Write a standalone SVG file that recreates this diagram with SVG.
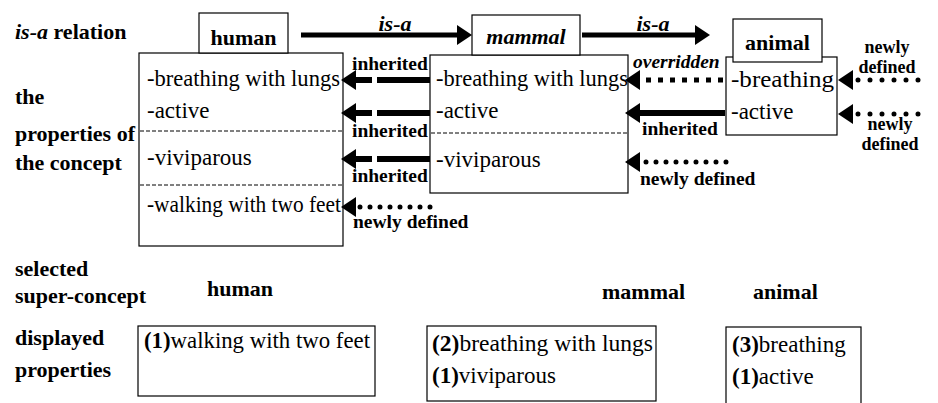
<svg xmlns="http://www.w3.org/2000/svg" width="938" height="403" viewBox="0 0 938 403">
<style>
text { font-family: "Liberation Serif", "Times New Roman", serif; fill: #000; }
.t { font-size: 23px; }
.b { font-size: 22px; font-weight: bold; }
.lb { font-size: 19.5px; font-weight: bold; }
.sm { font-size: 18px; font-weight: bold; }
.i { font-style: italic; }
.bo { font-weight: bold; }
.box { fill: #fff; stroke: #000; stroke-width: 1.2; }
.dash { stroke: #000; stroke-width: 1; stroke-dasharray: 4 2; fill: none; }
.thick { stroke: #000; stroke-width: 6; fill: none; }
.isa { stroke: #000; stroke-width: 5; fill: none; }
.dots { stroke: #000; stroke-width: 5; stroke-linecap: round; fill: none; }
.sq { stroke: #000; stroke-width: 5; stroke-dasharray: 5 7; fill: none; }
</style>
<defs>
<marker id="ah" markerUnits="userSpaceOnUse" viewBox="0 0 15 20" markerWidth="15" markerHeight="20" refX="0" refY="10" orient="auto">
<path d="M0,0 L15,10 L0,20 z" fill="#000"/>
</marker>
</defs>
<rect width="938" height="403" fill="#fff"/>

<g id="row-labels">
<text class="b" x="15" y="39"><tspan class="i">is-a</tspan> relation</text>
<text class="b" x="15" y="104">the</text>
<text class="b" x="15" y="141">properties of</text>
<text class="b" x="15" y="170">the concept</text>
<text class="b" x="15" y="276">selected</text>
<text class="b" x="15" y="303">super-concept</text>
<text class="b" x="15" y="345">displayed</text>
<text class="b" x="15" y="377">properties</text>
</g>

<g id="human">
<rect class="box" x="139" y="53" width="204" height="193"/>
<line class="dash" x1="140" y1="131" x2="342" y2="131"/>
<line class="dash" x1="140" y1="185" x2="342" y2="185"/>
<text class="t" x="147" y="86" textLength="193" lengthAdjust="spacingAndGlyphs">-breathing with lungs</text>
<text class="t" x="147" y="118">-active</text>
<text class="t" x="147" y="165">-viviparous</text>
<text class="t" x="147" y="212" textLength="194" lengthAdjust="spacingAndGlyphs">-walking with two feet</text>
<rect class="box" x="199" y="13" width="89" height="40"/>
<text class="b" x="243.5" y="45" text-anchor="middle">human</text>
</g>

<g id="mammal">
<rect class="box" x="430" y="55" width="198" height="138"/>
<line class="dash" x1="431" y1="133" x2="627" y2="133"/>
<text class="t" x="436" y="86" textLength="192" lengthAdjust="spacingAndGlyphs">-breathing with lungs</text>
<text class="t" x="436" y="118">-active</text>
<text class="t" x="436" y="167">-viviparous</text>
<rect class="box" x="472" y="15" width="108" height="40"/>
<text class="b i" x="526" y="44" text-anchor="middle">mammal</text>
</g>

<g id="animal">
<rect class="box" x="726" y="57" width="111" height="78"/>
<text class="t" x="731" y="87" textLength="103" lengthAdjust="spacingAndGlyphs">-breathing</text>
<text class="t" x="731" y="119">-active</text>
<rect class="box" x="733" y="19" width="89" height="43"/>
<text class="b" x="777.5" y="50" text-anchor="middle">animal</text>
</g>

<g id="selected-human">
<text class="b" x="207" y="296">human</text>
<rect class="box" x="138" y="326" width="237" height="70"/>
<text class="t" x="144" y="348" textLength="226" lengthAdjust="spacingAndGlyphs"><tspan class="bo">(1)</tspan>walking with two feet</text>
</g>

<g id="selected-mammal">
<text class="b" x="602" y="299">mammal</text>
<rect class="box" x="427" y="326" width="229" height="75"/>
<text class="t" x="432" y="351" textLength="221" lengthAdjust="spacingAndGlyphs"><tspan class="bo">(2)</tspan>breathing with lungs</text>
<text class="t" x="432" y="383"><tspan class="bo">(1)</tspan>viviparous</text>
</g>

<g id="selected-animal">
<text class="b" x="753" y="299">animal</text>
<rect class="box" x="726" y="327" width="135" height="80"/>
<text class="t" x="732" y="352"><tspan class="bo">(3)</tspan>breathing</text>
<text class="t" x="732" y="384"><tspan class="bo">(1)</tspan>active</text>
</g>

<g id="connectors">
<path class="isa" d="M301,35 H457" marker-end="url(#ah)"/>
<text class="b i" x="395" y="31" text-anchor="middle">is-a</text>
<path class="isa" d="M582,35 H695" marker-end="url(#ah)"/>
<text class="b i" x="653" y="31" text-anchor="middle">is-a</text>

<path class="thick" d="M430,80 H377 M372,80 H356" marker-end="url(#ah)"/>
<text class="lb" x="352" y="70">inherited</text>
<path class="thick" d="M430,113 H377 M372,113 H356" marker-end="url(#ah)"/>
<text class="lb" x="352" y="137">inherited</text>
<path class="thick" d="M430,159 H377 M372,159 H356" marker-end="url(#ah)"/>
<text class="lb" x="352" y="182">inherited</text>
<path class="dots" d="M430,207 H356" stroke-dasharray="0 10" marker-end="url(#ah)"/>
<text class="lb" x="353" y="228">newly defined</text>

<path class="sq" d="M723,80 H640" marker-end="url(#ah)"/>
<text class="lb i" x="633" y="68">overridden</text>
<path class="thick" d="M725,113 H640" marker-end="url(#ah)"/>
<text class="lb" x="642" y="135">inherited</text>
<path class="dots" d="M726,162 H640" stroke-dasharray="0 10" marker-end="url(#ah)"/>
<text class="lb" x="640" y="185">newly defined</text>

<path class="dots" d="M918,80 H853" stroke-dasharray="0 12" marker-end="url(#ah)"/>
<text class="sm" text-anchor="middle"><tspan x="887" y="53">newly</tspan><tspan x="887" y="73">defined</tspan></text>
<path class="dots" d="M918,114 H853" stroke-dasharray="0 12" marker-end="url(#ah)"/>
<text class="sm" text-anchor="middle"><tspan x="890" y="130">newly</tspan><tspan x="890" y="150">defined</tspan></text>
</g>
</svg>
